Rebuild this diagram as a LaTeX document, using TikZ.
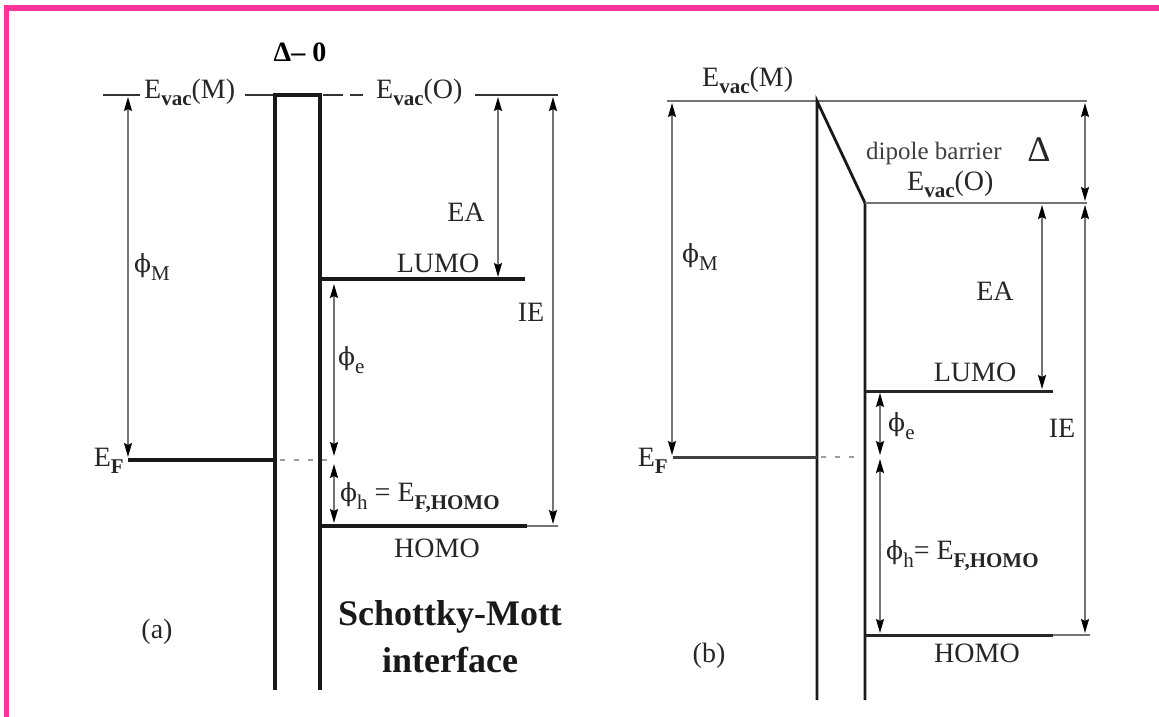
\documentclass[tikz,border=0pt]{standalone}
\usepackage{fontspec}
\setmainfont{Liberation Serif}
\newfontfamily\phifont{DejaVu Serif}
\usetikzlibrary{arrows.meta}
\definecolor{pinkb}{RGB}{255,51,153}
\definecolor{lgray}{RGB}{115,115,115}
\newcommand{\sbs}[1]{\raisebox{-0.28em}{\fontsize{21}{22}\selectfont #1}}
\newcommand{\bsbs}[1]{\raisebox{-0.28em}{\fontsize{21}{22}\selectfont\bfseries #1}}
\newcommand{\vphi}{{\phifont\fontsize{25}{26}\selectfont ϕ}}
\begin{document}
\begin{tikzpicture}[x=1pt,y=-1pt,
  thickln/.style={line width=3.6pt, black!90, line cap=rect},
  thinln/.style={line width=1.8pt, lgray},
  dim/.style={line width=1.7pt, lgray, {Stealth[black,length=14pt,width=8pt,inset=2pt]}-{Stealth[black,length=14pt,width=8pt,inset=2pt]}},
  dashln/.style={line width=1.8pt, lgray!70, dash pattern=on 5pt off 9pt},
  lab/.style={font=\fontsize{28}{30}\selectfont, inner sep=0pt, text=black!85},
  small/.style={font=\fontsize{25}{27}\selectfont, inner sep=0pt, text=black!75},
  big/.style={font=\fontsize{36}{40}\selectfont\bfseries, inner sep=0pt, text=black!90, align=center},
]
\useasboundingbox (0,0) rectangle (1159,717);
% frame
\fill[pinkb] (4,5) rectangle (1159,11);
\fill[pinkb] (4,5) rectangle (9,717);

% ================= panel (a) =================
\coordinate (aL1) at (103,95);  \coordinate (aL2) at (140,95);
\coordinate (aL3) at (245,95);  \coordinate (aL4) at (273,95);
\coordinate (aR1) at (323,95);  \coordinate (aR2) at (343,95);
\coordinate (aR3) at (350,95);  \coordinate (aR4) at (363,95);
\coordinate (aR5) at (475,95);  \coordinate (aR6) at (558,95);
\draw[thinln, black!80] (aL1) -- (aL2);
\draw[thinln, black!80] (aL3) -- (aL4);
\draw[thinln, black!80] (aR1) -- (aR2);
\draw[thinln, black!80] (aR3) -- (aR4);
\draw[thinln, black!80] (aR5) -- (aR6);
\node[lab, anchor=base west] (aEvM) at (144,98) {E\bsbs{vac}(M)};
\node[lab, anchor=base west] (aEvO) at (376,98) {E\bsbs{vac}(O)};
\node[font=\fontsize{28}{30}\selectfont\bfseries, inner sep=0pt] (adelta) at (300,52) {Δ– 0};

% interface box
\coordinate (aB1) at (275,690); \coordinate (aB2) at (275,95);
\coordinate (aB3) at (320,95);  \coordinate (aB4) at (320,690);
\draw[thickln, line cap=butt, line join=miter] (aB1) -- (aB2) -- (aB3) -- (aB4);

% metal side
\coordinate (aMtop) at (128,97); \coordinate (aMbot) at (128,457);
\draw[dim] (aMtop) -- (aMbot);
\node[lab, anchor=west] (aphiM) at (134,267) {\vphi\sbs{M}};
\coordinate (aF1) at (128,460); \coordinate (aF2) at (275,460);
\coordinate (aF3) at (280,460); \coordinate (aF4) at (332,460);
\draw[thickln, line cap=butt] (aF1) -- (aF2);
\draw[dashln] (aF3) -- (aF4);
\node[lab, anchor=base east] (aEF) at (124,466) {E\bsbs{F}};

% organic side
\coordinate (aLU1) at (320,279); \coordinate (aLU2) at (525,279);
\draw[thickln, line cap=butt] (aLU1) -- (aLU2);
\node[lab, anchor=base] (aLUMO) at (438,272) {LUMO};
\coordinate (aHO1) at (320,526); \coordinate (aHO2) at (527,526);
\coordinate (aHO3) at (558,526);
\draw[thickln, line cap=butt] (aHO1) -- (aHO2);
\draw[thinln] (aHO2) -- (aHO3);
\node[lab, anchor=base] (aHOMO) at (437,557) {HOMO};

\coordinate (aEAt) at (498,97);  \coordinate (aEAb) at (498,277);
\draw[dim] (aEAt) -- (aEAb);
\node[lab] (aEA) at (466,212) {EA};
\coordinate (aIEt) at (553,97);  \coordinate (aIEb) at (553,524);
\draw[dim] (aIEt) -- (aIEb);
\node[lab] (aIE) at (531,312) {IE};

\coordinate (aet) at (334,284); \coordinate (aeb) at (334,456);
\draw[dim] (aet) -- (aeb);
\node[lab, anchor=west] (aphie) at (338,360) {\vphi\sbs{e}};
\coordinate (aht) at (334,464); \coordinate (ahb) at (334,523);
\draw[dim] (aht) -- (ahb);
\node[lab, anchor=west] (aphih) at (340,498) {\vphi\sbs{h} = E\bsbs{F,HOMO}};

\node[lab] (alab) at (157,632) {(a)};
\node[big] (asm) at (450,617) {Schottky-Mott};
\node[big] (aint) at (450,660) {interface};

% ================= panel (b) =================
\coordinate (bT1) at (667,101); \coordinate (bT2) at (1087,101);
\draw[thinln] (bT1) -- (bT2);
\node[lab, anchor=base west] (bEvM) at (702,86) {E\bsbs{vac}(M)};

\coordinate (bMtop) at (672,103); \coordinate (bMbot) at (672,455);
\draw[dim] (bMtop) -- (bMbot);
\node[lab, anchor=west] (bphiM) at (682,257) {\vphi\sbs{M}};

\coordinate (bI1) at (817,700); \coordinate (bI2) at (817,101);
\coordinate (bI3) at (865,203); \coordinate (bI4) at (865,700);
\draw[line width=2.8pt, black!90, line join=miter] (bI1) -- (bI2) -- (bI3) -- (bI4);

\coordinate (bO1) at (865,203); \coordinate (bO2) at (1087,203);
\draw[thinln] (bO1) -- (bO2);
\node[small, anchor=west] (bdip) at (866,153) {dipole barrier};
\node[font=\fontsize{36}{38}\selectfont, inner sep=0pt, text=black!85] (bDelta) at (1039,150) {Δ};
\node[lab, anchor=base west] (bEvO) at (907,190) {E\bsbs{vac}(O)};
\coordinate (bDt) at (1085,103); \coordinate (bDb) at (1085,201);
\draw[dim] (bDt) -- (bDb);

\coordinate (bLU1) at (865,391); \coordinate (bLU2) at (1053,391);
\draw[line width=3pt, black!85] (bLU1) -- (bLU2);
\node[lab, anchor=base] (bLUMO) at (975,381) {LUMO};

\coordinate (bEAt) at (1042,205); \coordinate (bEAb) at (1042,389);
\draw[dim] (bEAt) -- (bEAb);
\node[lab] (bEA) at (995,291) {EA};
\coordinate (bIEt) at (1085,205); \coordinate (bIEb) at (1085,633);
\draw[dim] (bIEt) -- (bIEb);
\node[lab] (bIE) at (1062,428) {IE};

\coordinate (bF1) at (673,457); \coordinate (bF2) at (817,457);
\coordinate (bF3) at (821,457); \coordinate (bF4) at (863,457);
\draw[line width=3pt, black!75] (bF1) -- (bF2);
\draw[dashln] (bF3) -- (bF4);
\node[lab, anchor=base east] (bEF) at (668,466) {E\bsbs{F}};

\coordinate (bet) at (880,393); \coordinate (beb) at (880,455);
\draw[dim] (bet) -- (beb);
\node[lab, anchor=west] (bphie) at (888,426) {\vphi\sbs{e}};
\coordinate (bht) at (880,459); \coordinate (bhb) at (880,633);
\draw[dim] (bht) -- (bhb);
\node[lab, anchor=west] (bphih) at (886,556) {\vphi\sbs{h}= E\bsbs{F,HOMO}};

\coordinate (bHO1) at (865,635); \coordinate (bHO2) at (1053,635);
\coordinate (bHO3) at (1090,635);
\draw[line width=3pt, black!85] (bHO1) -- (bHO2);
\draw[thinln] (bHO2) -- (bHO3);
\node[lab, anchor=base] (bHOMO) at (977,662) {HOMO};
\node[lab] (blab) at (709,656) {(b)};
\end{tikzpicture}
\end{document}
